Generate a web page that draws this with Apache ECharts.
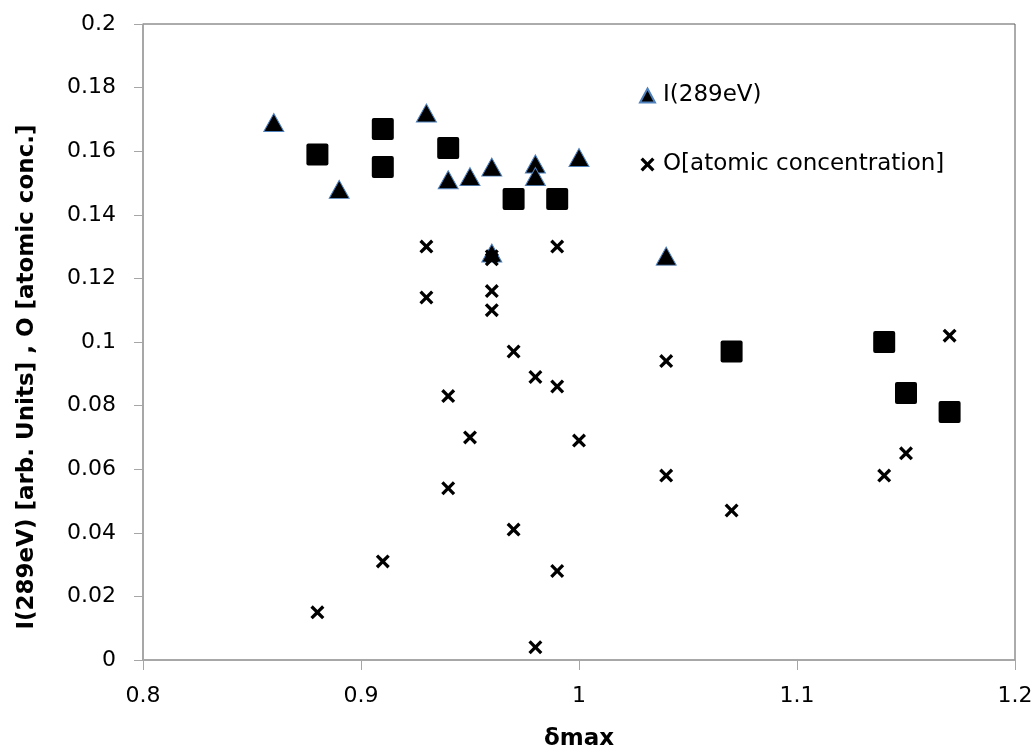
<!DOCTYPE html>
<html>
<head>
<meta charset="utf-8">
<script src="https://cdn.jsdelivr.net/npm/echarts@6/dist/echarts.min.js"></script>
<style>
  html, body { margin: 0; padding: 0; background: #fff; }
  #chart { width: 1036px; height: 753px; }
</style>
</head>
<body>
<div id="chart"></div>
<script>
// I(289eV) - triangles
const triX = [0.86, 0.89, 0.93, 0.94, 0.95, 0.96, 0.96, 0.98, 0.98, 1.00, 1.04];
const triY = [0.169, 0.148, 0.172, 0.151, 0.152, 0.155, 0.128, 0.156, 0.152, 0.158, 0.127];

// O[atomic concentration] - crosses
const oX = [0.88, 0.91, 0.93, 0.93, 0.94, 0.94, 0.95, 0.96, 0.96, 0.96, 0.96, 0.97, 0.97,
  0.98, 0.98, 0.99, 0.99, 0.99, 1.00, 1.04, 1.04, 1.07, 1.14, 1.15, 1.17];
const oY = [0.015, 0.031, 0.130, 0.114, 0.083, 0.054, 0.070, 0.127, 0.126, 0.116, 0.110, 0.097, 0.041,
  0.089, 0.004, 0.130, 0.086, 0.028, 0.069, 0.094, 0.058, 0.047, 0.058, 0.065, 0.102];

// third series (no legend entry) - squares
const sqX = [0.88, 0.91, 0.91, 0.94, 0.97, 0.99, 1.07, 1.14, 1.15, 1.17];
const sqY = [0.159, 0.167, 0.155, 0.161, 0.145, 0.145, 0.097, 0.100, 0.084, 0.078];

const yTitle = "I(289eV) [arb. Units] , O [atomic conc.]";

const crossPath = "path://M0,2 L2,0 L6,4 L10,0 L12,2 L8,6 L12,10 L10,12 L6,8 L2,12 L0,10 L4,6 Z";
const squarePath = "path://M2,0 H20 Q22,0 22,2 V20 Q22,22 20,22 H2 Q0,22 0,20 V2 Q0,0 2,0 Z";
const font = "'DejaVu Sans', sans-serif";

function pairs(xs, ys) {
  return xs.map((x, i) => [x, ys[i]]);
}

let myChart = echarts.init(document.getElementById("chart"));
let option = {
  animation: false,
  textStyle: { fontFamily: font },
  grid: {
    left: 143,
    right: 21,
    top: 24,
    bottom: 93,
    containLabel: false,
    outerBoundsMode: "none",
    show: true,
    borderColor: "#595959",
    borderWidth: 1,
  },
  graphic: [
    {
      type: "text",
      x: 27,
      y: 377,
      rotation: Math.PI / 2,
      style: {
        text: yTitle,
        font: "bold 23px 'DejaVu Sans', sans-serif",
        fill: "#000",
        align: "center",
        verticalAlign: "middle",
      },
    },
  ],
  legend: {
    orient: "vertical",
    left: 634,
    top: 79,
    itemGap: 46,
    itemWidth: 15,
    itemHeight: 14,
    textStyle: { fontSize: 23, color: "#000", fontFamily: font, padding: [0, 0, 0, 3] },
    data: [
      { name: "I(289eV)", icon: "triangle" },
      { name: "O[atomic concentration]", icon: crossPath },
    ],
  },
  xAxis: {
    type: "value",
    min: 0.8,
    max: 1.2,
    interval: 0.1,
    name: "δmax",
    nameLocation: "middle",
    nameGap: 68,
    nameTextStyle: { fontSize: 23, fontWeight: "bold", color: "#000", fontFamily: font },
    axisLine: { show: true, lineStyle: { color: "#a6a6a6", width: 1.5 } },
    axisTick: { show: true, length: 10, lineStyle: { color: "#a6a6a6" } },
    axisLabel: {
      fontSize: 22,
      color: "#000",
      margin: 25,
      formatter: (v) => String(Math.round(v * 10) / 10),
    },
    splitLine: { show: false },
  },
  yAxis: {
    type: "value",
    min: 0,
    max: 0.2,
    interval: 0.02,
    axisLine: { show: true, lineStyle: { color: "#a6a6a6", width: 1.5 } },
    axisTick: { show: true, length: 9, lineStyle: { color: "#a6a6a6" } },
    axisLabel: {
      fontSize: 22,
      color: "#000",
      margin: 27,
      formatter: (v) => String(Math.round(v * 100) / 100),
    },
    splitLine: { show: false },
  },
  series: [
    {
      name: "I(289eV)",
      type: "scatter",
      symbol: "triangle",
      symbolSize: [20, 18],
      itemStyle: { color: "#000", borderColor: "#4f81bd", borderWidth: 1, opacity: 1 },
      data: pairs(triX, triY),
      z: 3,
    },
    {
      name: "O[atomic concentration]",
      type: "scatter",
      symbol: crossPath,
      symbolSize: 14,
      itemStyle: { color: "#000", opacity: 1 },
      data: pairs(oX, oY),
      z: 4,
    },
    {
      name: "squares",
      type: "scatter",
      symbol: squarePath,
      symbolSize: 22,
      itemStyle: { color: "#000", opacity: 1 },
      data: pairs(sqX, sqY),
      z: 2,
    },
  ],
};
option && myChart.setOption(option);
</script>
</body>
</html>
